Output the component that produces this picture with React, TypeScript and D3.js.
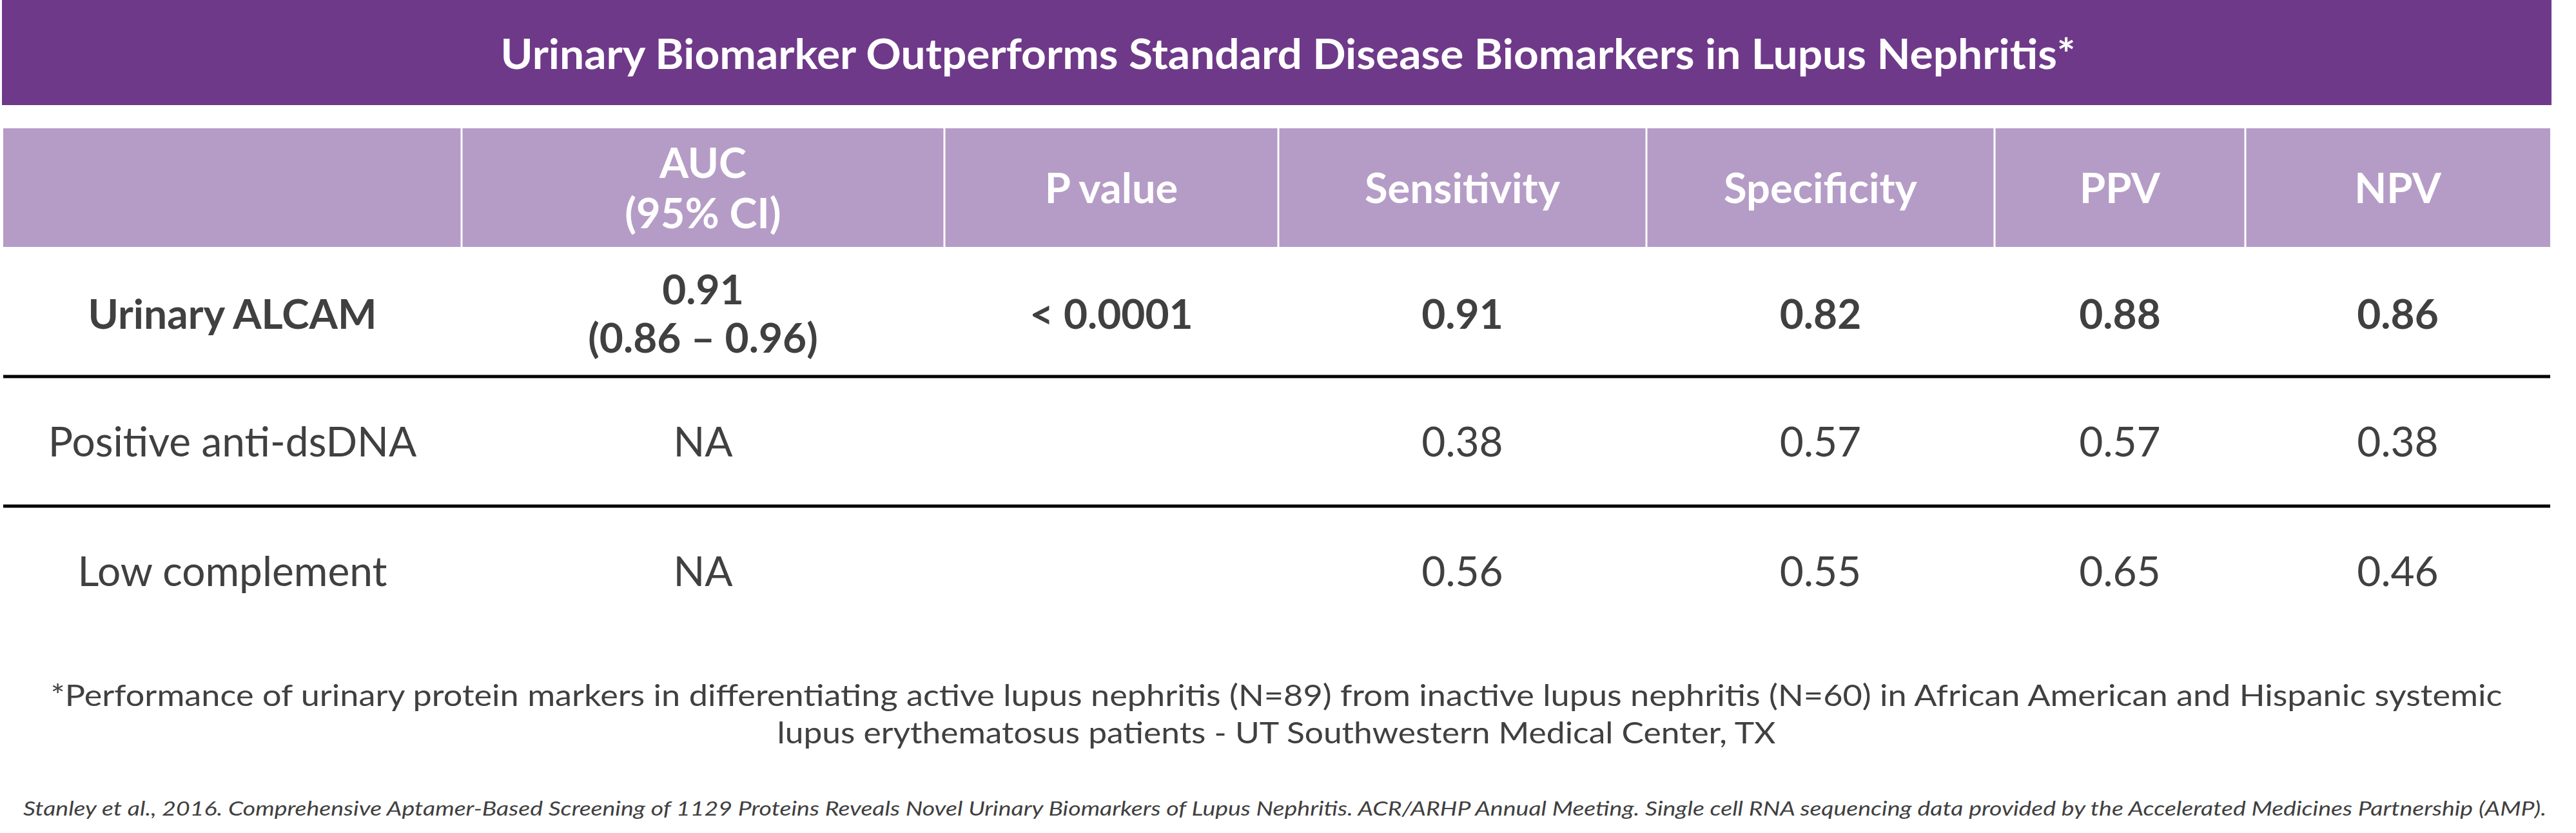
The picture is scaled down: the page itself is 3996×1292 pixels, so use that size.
import React from "react";
import * as d3 from "d3";

// ---------- data ----------
const title = "Urinary Biomarker Outperforms Standard Disease Biomarkers in Lupus Nephritis*";
const headers = [[""], ["AUC", "(95% CI)"], ["P value"], ["Sensitivity"], ["Specificity"], ["PPV"], ["NPV"]];
const markers = ["Urinary ALCAM", "Positive anti-dsDNA", "Low complement"];
const aucText = [["0.91", "(0.86 – 0.96)"], ["NA"], ["NA"]];
const pValues = ["< 0.0001", "", ""];
const sensitivity = [0.91, 0.38, 0.56];
const specificity = [0.82, 0.57, 0.55];
const ppv = [0.88, 0.57, 0.65];
const npv = [0.86, 0.38, 0.46];
const footnote = [
  "*Performance of urinary protein markers in differentiating active lupus nephritis (N=89) from inactive lupus nephritis (N=60) in African American and Hispanic systemic",
  "lupus erythematosus patients - UT Southwestern Medical Center, TX",
];
const citation =
  "Stanley et al., 2016. Comprehensive Aptamer-Based Screening of 1129 Proteins Reveals Novel Urinary Biomarkers of Lupus Nephritis. ACR/ARHP Annual Meeting.  Single cell RNA sequencing data provided by the Accelerated Medicines Partnership (AMP).";

// ---------- layout ----------
const W = 3996;
const H = 1292;
const colEdges = [5, 716, 1465, 1983, 2554, 3094, 3483, 3956];
const FONT = "Lato, 'Open Sans', sans-serif";
const PURPLE = "#6f398a";
const LILAC = "#b59cc6";
const TEXT = "#404040";

const fmt = d3.format(".2f");

export default function App() {
  const rowsCells: string[][][] = markers.map((m, i) => [
    [m],
    aucText[i],
    [pValues[i]],
    [fmt(sensitivity[i])],
    [fmt(specificity[i])],
    [fmt(ppv[i])],
    [fmt(npv[i])],
  ]);

  const headerTop = 199;
  const headerBottom = 383;
  const y = d3.scaleLinear().domain([0, 3]).range([headerBottom, headerBottom + 3 * 201]);
  const colCenter = (j: number) => (colEdges[j] + colEdges[j + 1]) / 2;

  const bodyFs = 64;
  const headFs = 65;

  return (
    <svg
      width={W}
      height={H}
      style={{ position: "absolute", left: 0, top: 0, background: "#fff" }}
      fontFamily={FONT}
    >
      <rect x={0} y={0} width={W} height={H} fill="#fff" />
      {/* title bar */}
      <rect x={3} y={0} width={3955} height={163} fill={PURPLE} />
      <text
        x={1998}
        y={107}
        textAnchor="middle"
        fill="#fff"
        fontWeight={700}
        fontSize={65}
        textLength={2443}
        lengthAdjust="spacingAndGlyphs"
      >
        {title}
      </text>

      {/* header row */}
      {headers.map((h, j) => (
        <g key={"h" + j}>
          <rect
            x={colEdges[j]}
            y={headerTop}
            width={colEdges[j + 1] - colEdges[j]}
            height={headerBottom - headerTop}
            fill={LILAC}
          />
          {h.map((line, k) => {
            const c = (headerTop + headerBottom) / 2 + 23.5;
            const yy = c + (k - (h.length - 1) / 2) * 78;
            return (
              <text
                key={k}
                x={colCenter(j)}
                y={yy}
                textAnchor="middle"
                fill="#fff"
                fontWeight={700}
                fontSize={headFs}
              >
                {line}
              </text>
            );
          })}
        </g>
      ))}
      {colEdges.slice(1, -1).map((x, j) => (
        <line key={"sep" + j} x1={x} x2={x} y1={headerTop} y2={headerBottom} stroke="#fff" strokeWidth={3} />
      ))}

      {/* body rows */}
      {rowsCells.map((cells, i) => {
        const top = y(i);
        const bot = y(i + 1);
        const center = (top + bot) / 2 + 23 + (i === 0 ? 3 : 0);
        return (
          <g key={"r" + i}>
            {cells.map((lines, j) =>
              lines.map((line, k) => (
                <text
                  key={j + "-" + k}
                  x={colCenter(j)}
                  y={center + (k - (lines.length - 1) / 2) * 75}
                  textAnchor="middle"
                  fill={TEXT}
                  fontWeight={i === 0 ? 700 : 400}
                  fontSize={bodyFs}
                >
                  {line}
                </text>
              ))
            )}
            {i < rowsCells.length - 1 && (
              <line x1={5} x2={3956} y1={bot} y2={bot} stroke="#000" strokeWidth={5} />
            )}
          </g>
        );
      })}

      {/* footnote */}
      <text x={1980} y={1095} textAnchor="middle" fill={TEXT} fontSize={46} textLength={3803} lengthAdjust="spacingAndGlyphs">
        {footnote[0]}
      </text>
      <text x={1980} y={1153} textAnchor="middle" fill={TEXT} fontSize={46} textLength={1549} lengthAdjust="spacingAndGlyphs">
        {footnote[1]}
      </text>
      <text
        x={1993}
        y={1265}
        textAnchor="middle"
        fill={TEXT}
        fontSize={31}
        fontStyle="italic"
        textLength={3914}
        lengthAdjust="spacingAndGlyphs"
      >
        {citation}
      </text>
    </svg>
  );
}
